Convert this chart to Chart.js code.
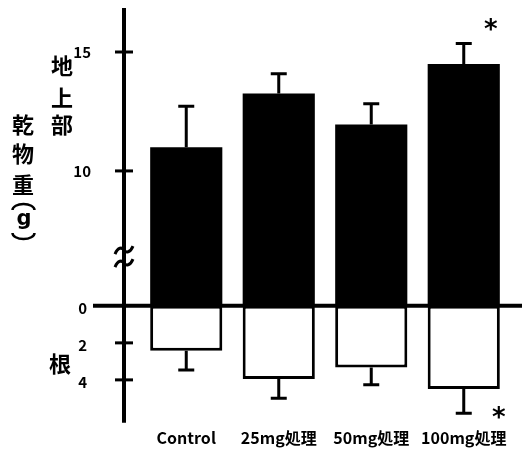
<!DOCTYPE html>
<html>
<head>
<meta charset="utf-8">
<script src="https://cdn.jsdelivr.net/npm/chart.js@4"></script>
<style>
  html, body { margin: 0; padding: 0; background: #fff; }
  #wrap { width: 522px; height: 454px; }
</style>
</head>
<body>
<div id="wrap"><canvas id="chart"></canvas></div>
<script>
// Shoot (地上部) and root (根) dry weight per treatment
const categories = ['Control', '25mg処理', '50mg処理', '100mg処理'];
const shootMeans = [11.0, 13.25, 11.95, 14.5];
const shootErrors = [1.72, 0.84, 0.87, 0.86];
const rootMeans = [2.42, 3.95, 3.33, 4.49];
const rootErrors = [1.04, 1.04, 0.94, 1.31];
const shootTicks = [10, 15];
const rootTicks = [0, 2, 4];
const shootStars = [false, false, false, true];
const rootStars = [false, false, false, true];

// shoot axis is broken: its "0" baseline sits where 4.33 would be
const SHOOT_BASE = 4.33;
const BREAK_AT = 6.4;

const JP_FONT = '"Noto Sans CJK JP", "Noto Sans", sans-serif';

// Axis, ticks, break mark, zero line, error bars, stars and titles
const decorations = {
    id: 'decorations',
    afterDatasetsDraw(chart) {
        const ctx = chart.ctx;
        const area = chart.chartArea;
        const xs = chart.scales.x;
        const ys = chart.scales.y;
        const yr = chart.scales.yr;
        const axisX = area.left - 16;
        const zeroY = yr.getPixelForValue(0);

        ctx.save();
        ctx.strokeStyle = '#000';
        ctx.fillStyle = '#000';
        ctx.lineCap = 'butt';

        // error bars
        ctx.lineWidth = 3;
        categories.forEach((c, i) => {
            const x = xs.getPixelForValue(i);
            const y0 = ys.getPixelForValue(shootMeans[i]);
            const y1 = ys.getPixelForValue(shootMeans[i] + shootErrors[i]);
            ctx.beginPath();
            ctx.moveTo(x, y0); ctx.lineTo(x, y1);
            ctx.moveTo(x - 8, y1); ctx.lineTo(x + 8, y1);
            ctx.stroke();
            const r0 = yr.getPixelForValue(rootMeans[i]);
            const r1 = yr.getPixelForValue(rootMeans[i] + rootErrors[i]);
            ctx.beginPath();
            ctx.moveTo(x, r0); ctx.lineTo(x, r1);
            ctx.moveTo(x - 8, r1); ctx.lineTo(x + 8, r1);
            ctx.stroke();
        });

        // y axis line
        ctx.lineWidth = 4;
        ctx.beginPath();
        ctx.moveTo(axisX, area.top);
        ctx.lineTo(axisX, area.bottom);
        ctx.stroke();

        // zero line
        ctx.beginPath();
        ctx.moveTo(axisX - 31, zeroY);
        ctx.lineTo(chart.width, zeroY);
        ctx.stroke();

        // ticks + labels
        ctx.lineWidth = 3;
        ctx.font = 'bold 15px ' + JP_FONT;
        ctx.textAlign = 'right';
        ctx.textBaseline = 'middle';
        shootTicks.forEach(t => {
            const y = ys.getPixelForValue(t);
            ctx.beginPath();
            ctx.moveTo(axisX - 9, y); ctx.lineTo(axisX + 9, y);
            ctx.stroke();
            ctx.fillText(String(t), axisX - 33, y);
        });
        rootTicks.forEach(t => {
            const y = yr.getPixelForValue(t);
            if (t !== 0) {
                ctx.beginPath();
                ctx.moveTo(axisX - 9, y); ctx.lineTo(axisX + 9, y);
                ctx.stroke();
            }
            ctx.fillText(String(t), axisX - 37, y + 2);
        });

        // break mark on the axis
        const by = ys.getPixelForValue(BREAK_AT);
        ctx.lineWidth = 3;
        [-6.5, 6.5].forEach(d => {
            const y = by + d;
            ctx.beginPath();
            ctx.moveTo(axisX - 9, y + 4);
            ctx.bezierCurveTo(axisX - 6, y - 3, axisX - 2, y - 3, axisX, y);
            ctx.bezierCurveTo(axisX + 2, y + 3, axisX + 6, y + 3, axisX + 9, y - 4);
            ctx.stroke();
        });

        // significance stars
        ctx.font = 'bold 26px "DejaVu Sans", sans-serif';
        ctx.textAlign = 'center';
        categories.forEach((c, i) => {
            const x = xs.getPixelForValue(i);
            if (shootStars[i]) {
                const y = ys.getPixelForValue(shootMeans[i] + shootErrors[i]);
                ctx.fillText('*', x + 27, y - 12);
            }
            if (rootStars[i]) {
                const y = yr.getPixelForValue(rootMeans[i] + rootErrors[i]);
                ctx.fillText('*', x + 35, y + 6);
            }
        });

        // axis titles, stacked vertically
        ctx.font = 'bold 22px ' + JP_FONT;
        const stack = (chars, x, ys) => chars.forEach((ch, k) => ctx.fillText(ch, x, ys[k]));
        stack(['地', '上', '部'], 62, [66, 98, 125]);
        stack(['乾', '物', '重'], 23, [125, 154, 185]);
        stack(['根'], 60, [364]);
        ctx.font = 'bold 21px "DejaVu Sans", sans-serif';
        stack(['g'], 24, [220]);
        // vertical-form parentheses round the unit
        ctx.lineWidth = 2.5;
        ctx.beginPath();
        ctx.ellipse(23.5, 210, 11, 6, 0, Math.PI, 2 * Math.PI);
        ctx.stroke();
        ctx.beginPath();
        ctx.ellipse(23.5, 233, 11, 6, 0, 0, Math.PI);
        ctx.stroke();

        ctx.restore();
    }
};

new Chart(document.getElementById('chart'), {
    type: 'bar',
    data: {
        labels: categories,
        datasets: [
            {
                label: '地上部',
                data: shootMeans.map(v => [SHOOT_BASE, v]),
                yAxisID: 'y',
                backgroundColor: '#000',
                borderWidth: 0,
                grouped: false,
                barPercentage: 0.78,
                categoryPercentage: 1
            },
            {
                label: '根',
                data: rootMeans.map(v => [0, v]),
                yAxisID: 'yr',
                backgroundColor: '#fff',
                borderColor: '#000',
                borderWidth: 3,
                borderSkipped: false,
                grouped: false,
                barPercentage: 0.78,
                categoryPercentage: 1
            }
        ]
    },
    options: {
        responsive: true,
        maintainAspectRatio: false,
        animation: false,
        layout: { padding: { left: 140, right: 12, top: 8, bottom: 0 } },
        plugins: {
            legend: { display: false },
            tooltip: { enabled: false }
        },
        scales: {
            x: {
                grid: { display: false, drawTicks: false },
                border: { display: false },
                ticks: {
                    color: '#000',
                    padding: 6,
                    font: { family: JP_FONT, size: 16, weight: 'bold' }
                }
            },
            y: { display: false, min: -0.59, max: 16.85 },
            yr: { display: false, reverse: true, min: -16.1, max: 6.32 }
        }
    },
    plugins: [decorations]
});
</script>
</body>
</html>
